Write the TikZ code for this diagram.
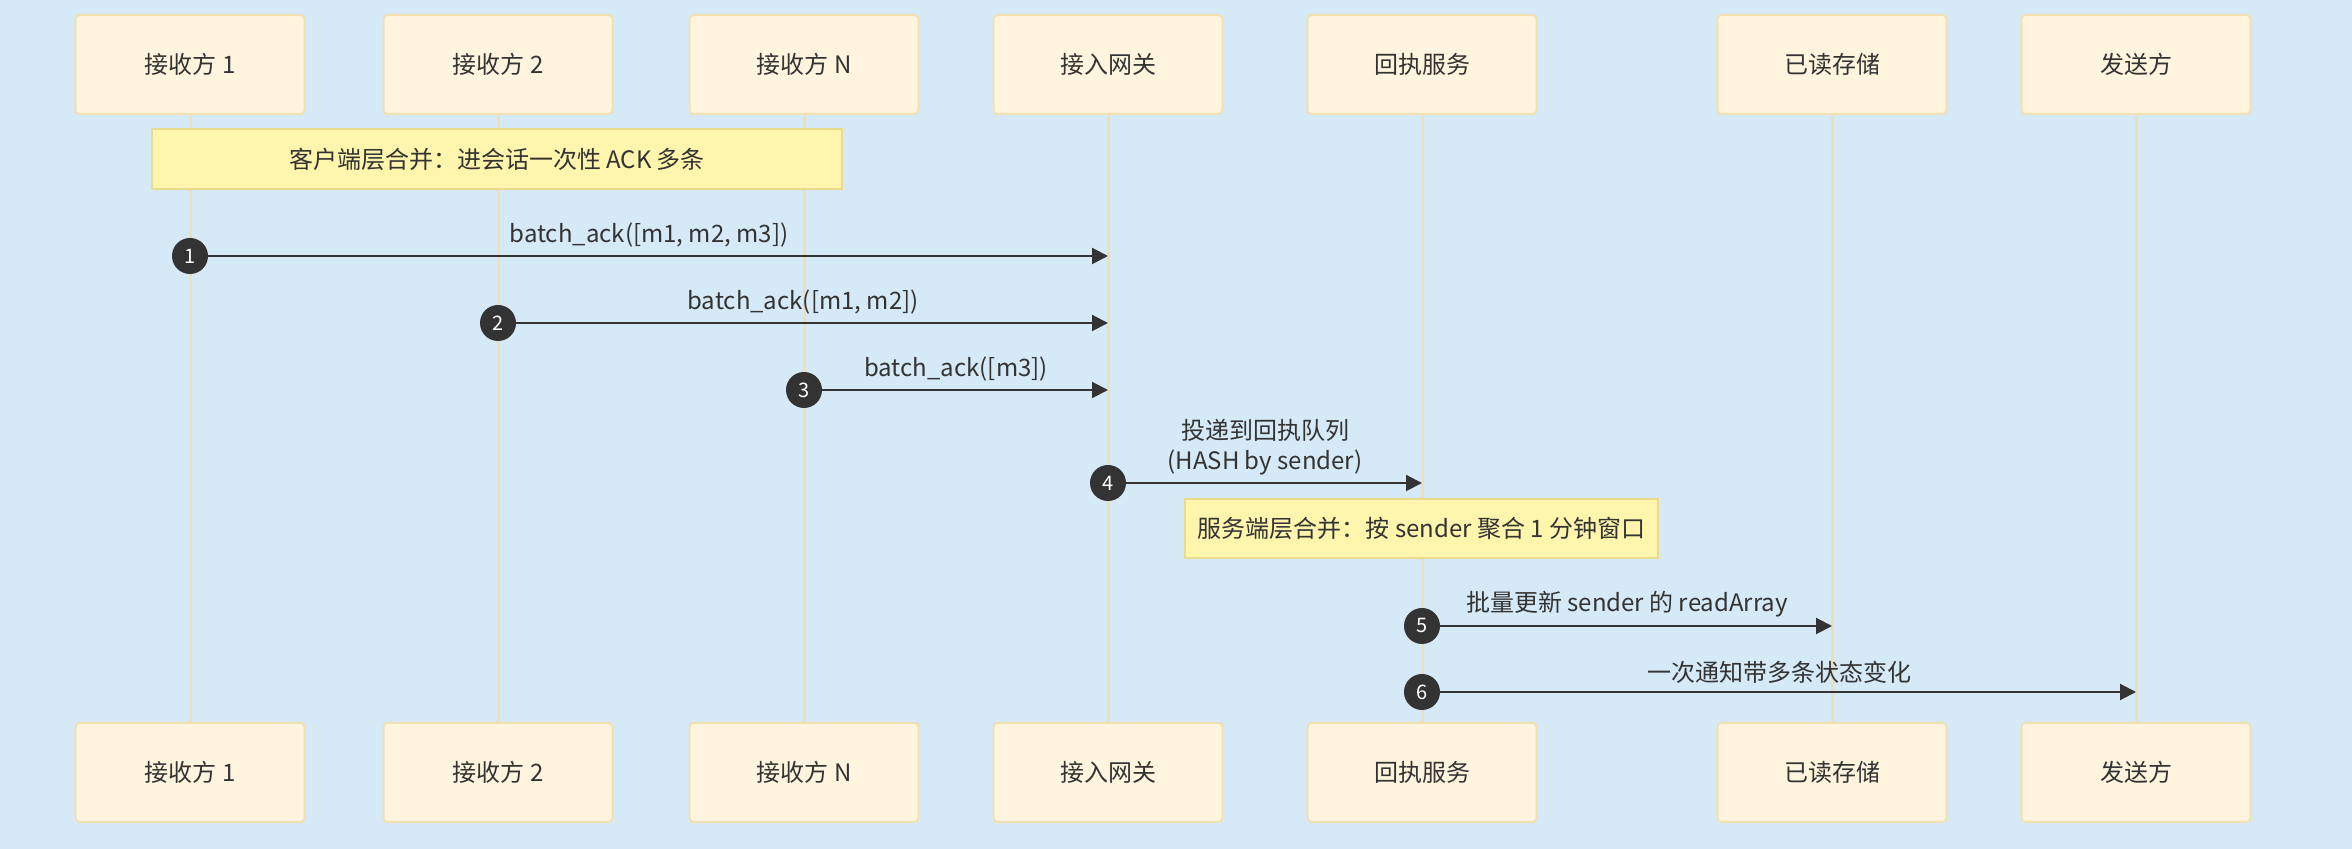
\documentclass[tikz,border=0pt]{standalone}
\usepackage{fontspec}
\setmainfont{Noto Sans CJK SC}
\usetikzlibrary{arrows.meta}

\definecolor{bgblue}{HTML}{D6E9F7}
\definecolor{actorfill}{HTML}{FFF4DD}
\definecolor{actorline}{HTML}{F3E0B0}
\definecolor{lifecol}{HTML}{F0DEB8}
\definecolor{notefill}{HTML}{FFF5AD}
\definecolor{noteline}{HTML}{EADA8C}
\definecolor{ink}{HTML}{333333}

\begin{document}
\begin{tikzpicture}[x=0.5pt,y=-0.5pt,
    every node/.style={font=\fontsize{12}{15}\selectfont, text=ink},
    actor/.style={draw=actorline, fill=actorfill, line width=1pt, rounded corners=2pt,
        minimum width=114.5pt, minimum height=49.5pt},
    life/.style={draw=lifecol, line width=1.5pt},
    note/.style={draw=noteline, fill=notefill, line width=1pt},
    num/.style={circle, fill=ink, minimum size=18pt, inner sep=0pt,
        text=white, font=\fontsize{10}{10}\selectfont},
    msg/.style={draw=ink, line width=1pt, -{Triangle[length=8pt,width=8pt]}}]
    \fill[bgblue] (0,0) rectangle (2352,849);
    \useasboundingbox (0,0) rectangle (2352,849);
    % participants, top and bottom, with their lifelines
    \foreach \n/\x/\t in {a1/190/接收方 1, a2/498/接收方 2, aN/804/接收方 N,
        gw/1108/接入网关, rs/1422/回执服务, st/1832/已读存储, sd/2136/发送方} {
        \draw[life] (\x,114) -- (\x,723);
        \node[actor] (\n) at (\x,64.5) {\t};
        \node[actor] (\n b) at (\x,772.5) {\t};
    }
    % notes
    \node[note, minimum width=345pt, minimum height=30pt] (n1) at (497,159)
        {客户端层合并：进会话一次性 ACK 多条};
    \node[note, minimum width=236.5pt, minimum height=29.5pt] (n2) at (1421.5,528.5)
        {服务端层合并：按 sender 聚合 1 分钟窗口};
    % messages
    \foreach \i/\f/\y/\g/\t in {1/a1/256/gw/{batch\_ack([m1, m2, m3])},
        2/a2/323/gw/{batch\_ack([m1, m2])}, 3/aN/390/gw/{batch\_ack([m3])},
        5/rs/626/st/{批量更新 sender 的 readArray}, 6/rs/692/sd/{一次通知带多条状态变化}} {
        \coordinate (e\i) at (\f |- 0,\y);
        \draw[msg] (e\i) -- (\g |- e\i) node[midway, above=0.5pt] {\t};
        \node[num] (c\i) at (e\i) {\i};
    }
    \coordinate (e4) at (gw |- 0,483);
    \draw[msg] (e4) -- (rs |- e4) node[midway, above=0pt, align=center]
        {投递到回执队列\\(HASH by sender)};
    \node[num] (c4) at (e4) {4};
\end{tikzpicture}
\end{document}
